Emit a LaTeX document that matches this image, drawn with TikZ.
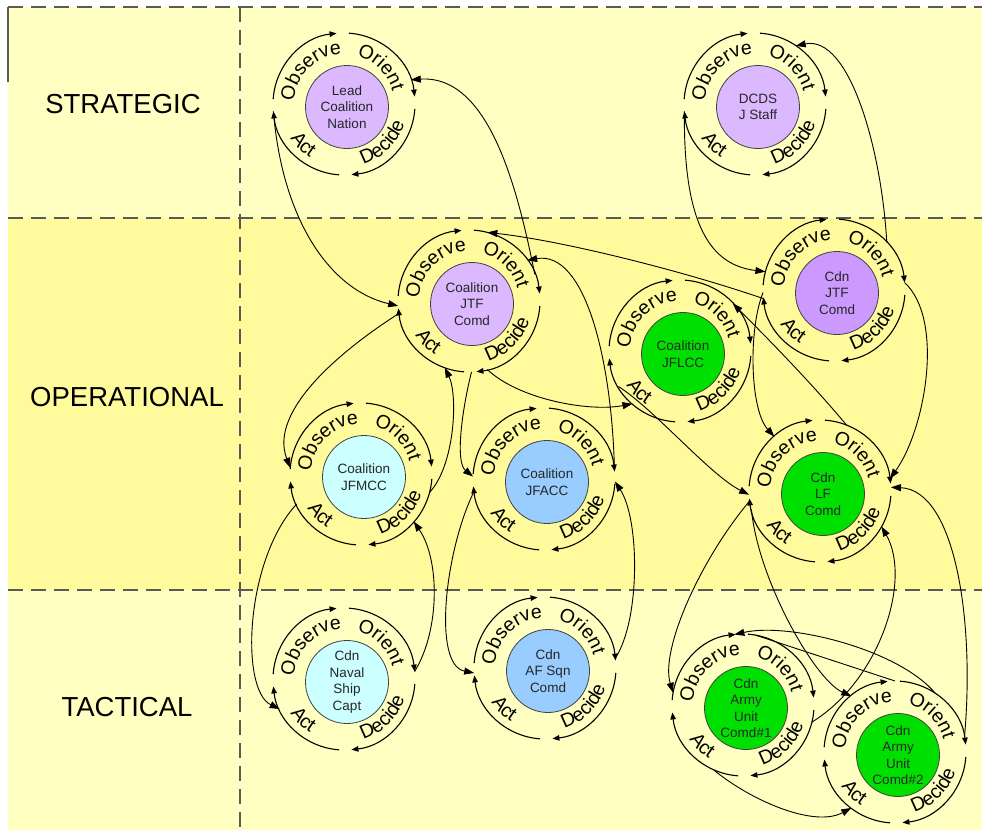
\documentclass[tikz,border=0pt]{standalone}
\usepackage{fontspec}
\setmainfont{Liberation Sans}
\usetikzlibrary{arrows.meta,decorations.text}

\definecolor{palezone}{HTML}{FFFFC2}
\definecolor{opzone}{HTML}{FFFB9C}
\definecolor{zoneline}{HTML}{5A5A5A}
\definecolor{lavender}{HTML}{DCB9FF}
\definecolor{cdnviolet}{HTML}{CC99FF}
\definecolor{cmdgreen}{HTML}{00E000}
\definecolor{navalcyan}{HTML}{CCFFFF}
\definecolor{airblue}{HTML}{99CCFF}

\newcommand\ringfont{\fontsize{19.5}{19.5}\selectfont}
\newcommand\corefont{\fontsize{13.5}{16.5}\selectfont}
\newcommand\zonefont{\fontsize{27.5}{27.5}\selectfont}

\tikzset{
  ringnode/.style={circle, minimum size=142pt, inner sep=0pt, outer sep=0pt},
  corenode/.style={circle, draw=black!75, line width=0.8pt, minimum size=83pt,
    inner sep=0pt, font=\corefont, align=center, text=black!85},
  ringarc/.style={line width=1.1pt, -{Triangle[length=7pt,width=5.5pt]}},
  link/.style={line width=0.9pt, -{Triangle[length=10pt,width=7pt]}},
  zonedash/.style={draw=zoneline, line width=1.3pt, dash pattern=on 15pt off 8pt},
  zonelabel/.style={font=\zonefont, text=black},
}

% One OODA loop: ring of four arrowed arcs with curved labels, filled core
\newcommand\oodaloop[4]{%
  \node[ringnode] (#1) at (#2) {};
  \node[corenode, fill=#3] (#1-core) at ([shift={(3pt,-3pt)}]#1.center) {#4};
  \draw[ringarc] (#1.176) arc[start angle=176, end angle=96, radius=71pt];
  \draw[ringarc] (#1.86) arc[start angle=86, end angle=6, radius=71pt];
  \draw[ringarc] (#1.-4) arc[start angle=-4, end angle=-84, radius=71pt];
  \draw[ringarc] (#1.-94) arc[start angle=-94, end angle=-174, radius=71pt];
  \path[decorate, decoration={text along path, text align=center,
      text={|\ringfont|Observe}}]
    ([shift={(180:50pt)}]#1.center) arc[start angle=180, end angle=90, radius=50pt];
  \path[decorate, decoration={text along path, text align=center,
      text={|\ringfont|Orient}}]
    ([shift={(90:50pt)}]#1.center) arc[start angle=90, end angle=0, radius=50pt];
  \path[decorate, decoration={text along path, text align=center,
      text={|\ringfont|Decide}}]
    ([shift={(-90:63.5pt)}]#1.center) arc[start angle=-90, end angle=0, radius=63.5pt];
  \path[decorate, decoration={text along path, text align=center,
      text={|\ringfont|Act}}]
    ([shift={(-180:63.5pt)}]#1.center) arc[start angle=-180, end angle=-90, radius=63.5pt];
}

\begin{document}
\begin{tikzpicture}[x=1pt, y=1pt]
  \useasboundingbox (0,0) rectangle (982,-830);
  \fill[white] (0,0) rectangle (982,-830);

  % command levels
  \fill[palezone] (8,-7) rectangle (982,-218);
  \fill[opzone] (8,-218) rectangle (982,-590);
  \fill[palezone] (8,-590) rectangle (982,-830);
  \draw[zonedash] (8,-7) -- (982,-7);
  \draw[zonedash] (8,-218) -- (982,-218);
  \draw[zonedash] (8,-590) -- (982,-590);
  \draw[zonedash] (240,-7) -- (240,-830);
  \draw[zoneline, line width=1.3pt] (8,-7) -- (8,-82);

  \node[zonelabel] (strat) at (123,-104) {STRATEGIC};
  \node[zonelabel] (oper) at (127,-397) {OPERATIONAL};
  \node[zonelabel] (tact) at (127,-707) {TACTICAL};

  % decision loops
  \oodaloop{lead}{344,-104}{lavender}{Lead\\Coalition\\Nation}
  \oodaloop{dcds}{755,-104}{lavender}{DCDS\\J Staff}
  \oodaloop{jtf}{469,-301}{lavender}{Coalition\\JTF\\Comd}
  \oodaloop{cjtf}{834,-290}{cdnviolet}{Cdn\\JTF\\Comd}
  \oodaloop{jflcc}{680,-351}{cmdgreen}{Coalition\\JFLCC}
  \oodaloop{jfmcc}{361,-474}{navalcyan}{Coalition\\JFMCC}
  \oodaloop{jfacc}{544,-479}{airblue}{Coalition\\JFACC}
  \oodaloop{lf}{820,-491}{cmdgreen}{Cdn\\LF\\Comd}
  \oodaloop{naval}{344,-679}{navalcyan}{Cdn\\Naval\\Ship\\Capt}
  \oodaloop{afsqn}{545,-668}{airblue}{Cdn\\AF Sqn\\Comd}
  \oodaloop{army1}{743,-705}{cmdgreen}{Cdn\\Army\\Unit\\Comd\#1}
  \oodaloop{army2}{895,-752}{cmdgreen}{Cdn\\Army\\Unit\\Comd\#2}

  % links between loops
  \draw[link] (lead.186) .. controls +(9,-109) and +(-68,16) .. (jtf.184);
  \draw[link] (jtf.22) .. controls +(-17,84) and +(79,5) .. (lead.20);
  \draw[link] (dcds.186) .. controls +(-1,-104) and +(-60,7) .. (cjtf.165);
  \draw[link] (cjtf.42) .. controls +(-5,92) and +(54,11) .. (dcds.55);
  \draw[link] (cjtf.187) .. controls +(-83.5,28.7) and +(73,-8) .. (jtf.75);
  \draw[link] (jfacc.7) .. controls +(-2.5,110) and +(58,10) .. (jtf.35);
  \draw[link] (jfmcc.-15) .. controls +(25.4,27.4) and +(13.3,-27.3) .. (jtf.-110);
  \draw[link] (jtf.-88) .. controls +(-9.5,-38) and +(-18,14.5) .. (jfacc.178);
  \draw[link] (jfacc.190) .. controls +(-29,-59) and +(-42,8) .. (afsqn.184);
  \draw[link] (afsqn.8) .. controls +(25,38) and +(25,-38.5) .. (jfacc.-2);
  \draw[link] (jtf.190) .. controls +(-55,-35) and +(-22.3,57.8) .. (jfmcc.175);
  \draw[link] (jfmcc.205) .. controls +(-51.7,-56) and +(-39.7,19) .. (naval.205);
  \draw[link] (naval.6) .. controls +(25.4,41.6) and +(26.2,-38.5) .. (jfmcc.-42);
  \draw[link] (jtf.-75) .. controls +(32.6,-30.4) and +(-42.5,-8.2) .. (jflcc.228);
  \draw[link] (jflcc.210) .. controls +(36.5,-23.5) and +(-39.1,19.7) .. (lf.183);
  \draw[link] (cjtf.182) .. controls +(-15,-37.5) and +(-24.4,26.6) .. (lf.130);
  \draw[link] (lf.68) .. controls +(-35,42) and +(35,-35) .. (jflcc.42);
  \draw[link] (cjtf.6) .. controls +(40.4,-37.4) and +(35.1,48.7) .. (lf.10);
  \draw[link] (army2.12) .. controls +(10.6,117.2) and +(64.1,-2.7) .. (lf.3);
  \draw[link] (army1.-14) .. controls +(68.1,42.2) and +(30.5,-53.5) .. (lf.-30);
  \draw[link] (lf.188) .. controls +(-49.7,-59.1) and +(-13,42.7) .. (army1.170);
  \draw[link] (lf.195) .. controls +(6.6,-70.6) and +(-36.3,16) .. (army2.128);
  \draw[link] (army2.55) .. controls +(-35.7,43.8) and +(55.7,12.5) .. (army1.97);
  \draw[line width=0.9pt] (army1.80) -- (army2.90);
  \draw[link] (army1.245) .. controls +(37,-30.7) and +(-37.5,-20.2) .. (army2.232);
\end{tikzpicture}
\end{document}
